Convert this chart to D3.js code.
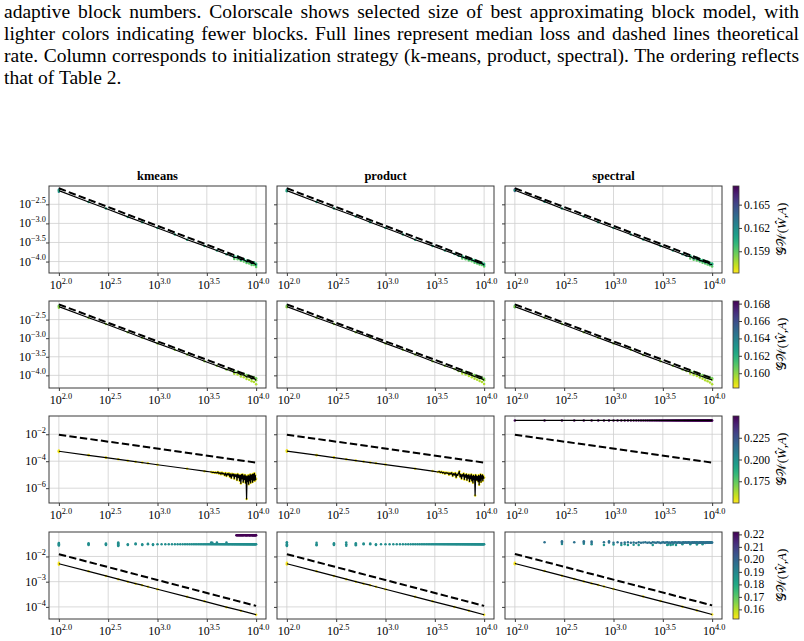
<!DOCTYPE html>
<html><head><meta charset="utf-8">
<script src="https://cdn.jsdelivr.net/npm/d3@7"></script>
<style>body{margin:0;background:#fff}svg{display:block}</style>
</head><body>
<svg id="c" width="804" height="641"></svg>
<script>
// ---------------- DATA ----------------
const captionLines = [
  "adaptive block numbers. Colorscale shows selected size of best approximating block model, with",
  "lighter colors indicating fewer blocks. Full lines represent median loss and dashed lines theoretical",
  "rate. Column corresponds to initialization strategy (k-means, product, spectral). The ordering reflects",
  "that of Table 2."
];
const columns = ["kmeans", "product", "spectral"];
const xTickExps = [2.0, 2.5, 3.0, 3.5, 4.0];
const xLimits = [1.9, 4.1];
const yTickExpsByRow = [[-2.5, -3.0, -3.5, -4.0], [-2.5, -3.0, -3.5, -4.0], [-2, -4, -6], [-2, -3, -4]];
const yTickDigitsByRow = [1, 1, 0, 0];
const yLimitsByRow = [[-4.30, -2.02], [-4.34, -2.00], [-7.1, -0.645], [-4.48, -1.03]];
const colorLimitsByRow = [[0.1562, 0.1674], [0.1583, 0.1683], [0.150, 0.250], [0.1523, 0.2219]];
const colorTicksByRow = [[0.159, 0.162, 0.165], [0.160, 0.162, 0.164, 0.166, 0.168], [0.175, 0.200, 0.225], [0.16, 0.17, 0.18, 0.19, 0.20, 0.21, 0.22]];
const colorTickDigitsByRow = [3, 3, 3, 2];

const sampleSizes = [100,200,300,400,500,600,700,800,900,1000,1100,1200,1300,1400,1500,1600,1700,1800,1900,2000,2100,2200,2300,2400,2500,2600,2700,2800,2900,3000,3100,3200,3300,3400,3500,3600,3700,3800,3900,4000,4100,4200,4300,4400,4500,4600,4700,4800,4900,5000,5100,5200,5300,5400,5500,5600,5700,5800,5900,6000,6100,6200,6300,6400,6500,6600,6700,6800,6900,7000,7100,7200,7300,7400,7500,7600,7700,7800,7900,8000,8100,8200,8300,8400,8500,8600,8700,8800,8900,9000,9100,9200,9300,9400,9500,9600,9700,9800,9900,10000];

// values are log10(loss); points are [n, log10(loss), GW]
// ---- row 1
const kmeansRow1Median = [[100,-2.14],[200,-2.44],[300,-2.61],[500,-2.83],[700,-2.97],[1000,-3.12],[1500,-3.29],[2000,-3.43],[3000,-3.59],[4000,-3.71],[5000,-3.81],[5500,-3.84],[6000,-3.89],[6500,-3.90],[7000,-3.95],[7500,-3.95],[8000,-4.00],[8500,-4.00],[9000,-4.05],[9500,-4.04],[10000,-4.09]];
const kmeansRow1Theory = [[100,-2.08],[10000,-4.05]];
const kmeansRow1Extra = [[100,-2.12,0.163],[100,-2.17,0.162],[6000,-3.86,0.160],[6000,-3.93,0.159],[6500,-3.87,0.160],[6500,-3.94,0.159],[7000,-3.92,0.160],[7000,-3.98,0.159],[7500,-3.93,0.160],[7500,-4.00,0.159],[8000,-3.97,0.160],[8000,-4.04,0.159],[8500,-3.98,0.160],[8500,-4.05,0.159],[9000,-4.02,0.160],[9000,-4.09,0.159],[9500,-4.02,0.160],[9500,-4.09,0.159],[10000,-4.06,0.160],[10000,-4.14,0.159]];
const productRow1Median = [[100,-2.14],[200,-2.44],[300,-2.61],[500,-2.82],[700,-2.97],[1000,-3.12],[1500,-3.29],[2000,-3.43],[3000,-3.59],[4000,-3.71],[5000,-3.80],[5500,-3.85],[6000,-3.88],[6500,-3.91],[7000,-3.94],[7500,-3.96],[8000,-3.99],[8500,-4.02],[9000,-4.04],[9500,-4.05],[10000,-4.09]];
const productRow1Theory = [[100,-2.08],[10000,-4.05]];
const productRow1Extra = [[100,-2.12,0.162],[100,-2.16,0.161],[6000,-3.86,0.160],[6000,-3.92,0.159],[6500,-3.88,0.160],[6500,-3.94,0.159],[7000,-3.91,0.160],[7000,-3.97,0.159],[7500,-3.94,0.160],[7500,-3.99,0.159],[8000,-3.96,0.160],[8000,-4.03,0.159],[8500,-3.99,0.160],[8500,-4.05,0.159],[9000,-4.01,0.160],[9000,-4.08,0.159],[9500,-4.03,0.160],[9500,-4.09,0.159],[10000,-4.06,0.160],[10000,-4.13,0.159]];
const spectralRow1Median = [[100,-2.13],[200,-2.43],[300,-2.61],[500,-2.82],[700,-2.97],[1000,-3.12],[1500,-3.29],[2000,-3.42],[3000,-3.59],[4000,-3.71],[5000,-3.81],[5500,-3.85],[6000,-3.87],[6500,-3.92],[7000,-3.93],[7500,-3.97],[8000,-3.99],[8500,-4.02],[9000,-4.03],[9500,-4.07],[10000,-4.08]];
const spectralRow1Theory = [[100,-2.08],[10000,-4.05]];
const spectralRow1Extra = [[100,-2.11,0.166],[100,-2.15,0.165],[200,-2.42,0.164],[6000,-3.85,0.160],[6000,-3.92,0.159],[6500,-3.88,0.160],[6500,-3.95,0.159],[7000,-3.90,0.160],[7000,-3.97,0.159],[7500,-3.94,0.160],[7500,-4.00,0.159],[8000,-3.96,0.160],[8000,-4.03,0.159],[8500,-3.99,0.160],[8500,-4.05,0.159],[9000,-4.00,0.160],[9000,-4.08,0.159],[9500,-4.04,0.160],[9500,-4.10,0.159],[10000,-4.05,0.160],[10000,-4.13,0.159]];
// ---- row 2
const kmeansRow2Median = [[100,-2.15],[200,-2.45],[300,-2.62],[500,-2.84],[700,-2.99],[1000,-3.14],[1500,-3.31],[2000,-3.44],[3000,-3.62],[4000,-3.74],[5000,-3.84],[5500,-3.87],[6000,-3.92],[6500,-3.93],[7000,-3.98],[7500,-3.99],[8000,-4.04],[8500,-4.04],[9000,-4.09],[9500,-4.08],[10000,-4.13]];
const kmeansRow2Theory = [[100,-2.09],[10000,-4.08]];
const kmeansRow2Extra = [[100,-2.13,0.161],[100,-2.18,0.160],[6000,-3.88,0.1605],[6000,-3.96,0.1595],[6500,-3.90,0.1605],[6500,-3.98,0.1595],[7000,-3.94,0.1605],[7000,-4.03,0.1595],[7500,-3.96,0.1605],[7500,-4.05,0.1595],[8000,-3.99,0.1605],[8000,-4.10,0.1595],[8500,-4.01,0.1605],[8500,-4.12,0.1595],[9000,-4.04,0.1605],[9000,-4.16,0.1595],[9500,-4.05,0.1605],[9500,-4.18,0.1595],[10000,-4.08,0.1605],[10000,-4.24,0.1595]];
const productRow2Median = [[100,-2.15],[200,-2.45],[300,-2.62],[500,-2.84],[700,-2.98],[1000,-3.14],[1500,-3.31],[2000,-3.44],[3000,-3.62],[4000,-3.74],[5000,-3.83],[5500,-3.88],[6000,-3.91],[6500,-3.94],[7000,-3.97],[7500,-4.00],[8000,-4.03],[8500,-4.05],[9000,-4.08],[9500,-4.09],[10000,-4.13]];
const productRow2Theory = [[100,-2.09],[10000,-4.08]];
const productRow2Extra = [[100,-2.13,0.161],[100,-2.17,0.160],[6000,-3.88,0.1605],[6000,-3.95,0.1595],[6500,-3.91,0.1605],[6500,-3.98,0.1595],[7000,-3.93,0.1605],[7000,-4.02,0.1595],[7500,-3.97,0.1605],[7500,-4.05,0.1595],[8000,-3.99,0.1605],[8000,-4.09,0.1595],[8500,-4.02,0.1605],[8500,-4.12,0.1595],[9000,-4.04,0.1605],[9000,-4.15,0.1595],[9500,-4.06,0.1605],[9500,-4.18,0.1595],[10000,-4.09,0.1605],[10000,-4.23,0.1595]];
const spectralRow2Median = [[100,-2.15],[200,-2.45],[300,-2.62],[500,-2.84],[700,-2.99],[1000,-3.14],[1500,-3.31],[2000,-3.45],[3000,-3.62],[4000,-3.74],[5000,-3.84],[5500,-3.88],[6000,-3.91],[6500,-3.95],[7000,-3.97],[7500,-4.01],[8000,-4.03],[8500,-4.06],[9000,-4.08],[9500,-4.10],[10000,-4.12]];
const spectralRow2Theory = [[100,-2.09],[10000,-4.08]];
const spectralRow2Extra = [[100,-2.13,0.162],[100,-2.17,0.161],[6000,-3.88,0.1605],[6000,-3.95,0.1595],[6500,-3.91,0.1605],[6500,-3.99,0.1595],[7000,-3.93,0.1605],[7000,-4.02,0.1595],[7500,-3.97,0.1605],[7500,-4.06,0.1595],[8000,-3.99,0.1605],[8000,-4.09,0.1595],[8500,-4.02,0.1605],[8500,-4.13,0.1595],[9000,-4.04,0.1605],[9000,-4.16,0.1595],[9500,-4.06,0.1605],[9500,-4.19,0.1595],[10000,-4.08,0.1605],[10000,-4.24,0.1595]];
// ---- row 3
const kmeansRow3Median = [[100,-3.26],[200,-3.56],[300,-3.74],[500,-3.96],[1000,-4.26],[2000,-4.56],[3000,-4.74],[3500,-4.80],[3600,-4.83],[3700,-4.82],[3800,-4.86],[3900,-4.83],[4000,-4.88],[4100,-4.80],[4200,-4.92],[4300,-4.85],[4400,-4.97],[4500,-4.84],[4600,-4.95],[4700,-4.90],[4800,-5.05],[4900,-4.88],[5000,-5.10],[5100,-4.92],[5200,-5.02],[5300,-4.90],[5400,-5.15],[5500,-4.95],[5600,-5.25],[5700,-4.93],[5800,-5.08],[5900,-4.96],[6000,-5.30],[6100,-4.98],[6200,-5.12],[6300,-5.00],[6400,-5.40],[6500,-4.95],[6600,-5.20],[6700,-5.02],[6800,-5.45],[6900,-5.05],[7000,-5.65],[7100,-5.00],[7200,-5.30],[7300,-4.98],[7400,-5.55],[7500,-5.08],[7600,-5.35],[7700,-5.02],[7800,-5.60],[7900,-5.10],[8000,-6.80],[8100,-5.15],[8200,-5.50],[8300,-5.05],[8400,-5.70],[8500,-5.10],[8600,-5.45],[8700,-4.98],[8800,-5.60],[8900,-5.05],[9000,-5.35],[9100,-5.00],[9200,-5.55],[9300,-4.95],[9400,-5.40],[9500,-5.10],[9600,-4.90],[9700,-5.45],[9800,-5.05],[9900,-5.35],[10000,-5.30]];
const kmeansRow3Theory = [[100,-2.03],[10000,-4.10]];
const kmeansRow3Extra = [[100,-3.20,0.152],[100,-3.31,0.152],[200,-3.54,0.152],[300,-3.72,0.152],[400,-3.86,0.152],[600,-4.04,0.152],[700,-4.10,0.152],[800,-4.16,0.152]];
const productRow3Median = [[100,-3.25],[200,-3.55],[300,-3.73],[500,-3.95],[1000,-4.25],[2000,-4.55],[3000,-4.73],[3400,-4.80],[3500,-4.76],[3600,-4.84],[3700,-4.79],[3800,-4.88],[3900,-4.82],[4000,-4.93],[4100,-4.84],[4200,-4.90],[4300,-4.86],[4400,-5.00],[4500,-4.87],[4600,-4.95],[4700,-4.85],[4800,-5.10],[4900,-4.92],[5000,-5.02],[5100,-4.88],[5200,-5.20],[5300,-4.95],[5400,-5.05],[5500,-4.90],[5600,-4.75],[5700,-5.15],[5800,-4.98],[5900,-5.30],[6000,-5.00],[6100,-5.10],[6200,-4.92],[6300,-5.35],[6400,-5.02],[6500,-5.18],[6600,-4.96],[6700,-5.40],[6800,-5.05],[6900,-5.25],[7000,-5.00],[7100,-5.50],[7200,-5.08],[7300,-5.30],[7400,-4.98],[7500,-5.45],[7600,-5.10],[7700,-5.60],[7800,-5.05],[7900,-5.35],[8000,-5.12],[8100,-6.55],[8200,-5.02],[8300,-5.40],[8400,-5.10],[8500,-5.40],[8600,-5.15],[8700,-5.50],[8800,-5.05],[8900,-5.75],[9000,-5.10],[9100,-5.40],[9200,-4.98],[9300,-5.55],[9400,-5.08],[9500,-5.30],[9600,-5.02],[9700,-5.45],[9800,-5.10],[9900,-5.25],[10000,-5.20]];
const productRow3Theory = [[100,-2.03],[10000,-4.10]];
const productRow3Extra = [[100,-3.19,0.152],[100,-3.30,0.152],[200,-3.53,0.152],[300,-3.71,0.152],[400,-3.85,0.152],[600,-4.03,0.152],[700,-4.09,0.152],[800,-4.15,0.152]];
const spectralRow3Loss = [-0.97,-0.97,-0.97,-0.97,-0.97,-0.97,-0.97,-0.97,-0.97,-0.97,-0.97,-0.97,-0.97,-0.97,-0.97,-0.97,-0.97,-0.97,-0.97,-0.97,-0.97,-0.97,-0.97,-0.97,-0.97,-0.97,-0.97,-0.97,-0.97,-0.97,-0.97,-0.97,-0.97,-0.97,-0.97,-0.97,-0.97,-0.97,-0.97,-0.97,-0.97,-0.97,-0.97,-0.97,-0.97,-0.97,-0.97,-0.97,-0.97,-0.97,-0.97,-0.97,-0.97,-0.97,-0.97,-0.97,-0.97,-0.97,-0.97,-0.97,-0.97,-0.97,-0.97,-0.97,-0.97,-0.97,-0.97,-0.97,-0.97,-0.97,-0.97,-0.97,-0.97,-0.97,-0.97,-0.97,-0.97,-0.97,-0.97,-0.97,-0.97,-0.97,-0.97,-0.97,-0.97,-0.97,-0.97,-0.97,-0.97,-0.97,-0.97,-0.97,-0.97,-0.97,-0.97,-0.97,-0.97,-0.97,-0.97,-0.97];
const spectralRow3Theory = [[100,-2.03],[10000,-4.10]];
const spectralRow3Extra = [];
// ---- row 4 (lower line = median, upper band = failed replicates)
const kmeansRow4Median = [[100,-2.29],[200,-2.59],[300,-2.77],[400,-2.90],[500,-3.00],[600,-3.08],[700,-3.14],[800,-3.20],[1000,-3.30],[2000,-3.60],[3000,-3.78],[5000,-4.01],[7000,-4.15],[10000,-4.31]];
const kmeansRow4Theory = [[100,-1.91],[10000,-3.96]];
const kmeansRow4Upper = [-1.52,-1.52,-1.52,-1.52,-1.52,-1.52,-1.52,-1.52,-1.52,-1.52,-1.52,-1.52,-1.52,-1.52,-1.52,-1.52,-1.52,-1.52,-1.52,-1.52,-1.52,-1.52,-1.52,-1.52,-1.52,-1.52,-1.52,-1.52,-1.52,-1.52,-1.52,-1.52,-1.52,-1.52,-1.52,-1.52,-1.52,-1.52,-1.52,-1.52,-1.52,-1.52,-1.52,-1.52,-1.52,-1.52,-1.52,-1.52,-1.52,-1.52,-1.52,-1.52,-1.52,-1.52,-1.52,-1.52,-1.52,-1.52,-1.52,-1.52,-1.52,-1.52,-1.52,-1.52,-1.52,-1.52,-1.52,-1.52,-1.52,-1.52,-1.52,-1.52,-1.52,-1.52,-1.52,-1.52,-1.52,-1.52,-1.52,-1.52,-1.52,-1.52,-1.52,-1.52,-1.52,-1.52,-1.52,-1.52,-1.52,-1.52,-1.52,-1.52,-1.52,-1.52,-1.52,-1.52,-1.52,-1.52,-1.52,-1.52];
const kmeansRow4UpperGW = 0.188;
const kmeansRow4PurpleN = [6300,6400,6500,6600,6700,6800,6900,7000,7100,7200,7300,7400,7500,7700,7800,7900,8000,8100,8200,8400,8500,8600,8700,8800,9000,9100,9200,9300,9400,9500,9600,9700,9800,9900,10000];
const kmeansRow4PurpleLoss = -1.16;
const kmeansRow4PurpleGW = 0.222;
const kmeansRow4Extra = [[100,-2.25,0.153],[100,-2.33,0.153],[100,-1.47,0.188],[100,-1.49,0.188],[100,-1.55,0.188],[100,-1.57,0.188],[200,-1.48,0.188],[200,-1.55,0.188],[300,-1.49,0.188],[300,-1.55,0.188],[400,-1.45,0.188],[400,-1.48,0.188],[400,-1.56,0.188],[400,-1.59,0.188],[500,-1.55,0.188],[600,-1.49,0.188],[700,-1.55,0.188],[800,-1.50,0.188],[900,-1.55,0.188],[3500,-1.45,0.190],[3600,-1.46,0.190],[4000,-1.45,0.190],[5000,-1.45,0.190]];
const productRow4Median = [[100,-2.29],[200,-2.59],[300,-2.77],[400,-2.90],[500,-3.00],[600,-3.08],[700,-3.14],[800,-3.20],[1000,-3.30],[2000,-3.60],[3000,-3.78],[5000,-4.00],[7000,-4.15],[10000,-4.31]];
const productRow4Theory = [[100,-1.91],[10000,-3.96]];
const productRow4Upper = [-1.52,-1.52,-1.52,-1.52,-1.52,-1.52,-1.52,-1.52,-1.52,-1.52,-1.52,-1.52,-1.52,-1.52,-1.52,-1.52,-1.52,-1.52,-1.52,-1.52,-1.52,-1.52,-1.52,-1.52,-1.52,-1.52,-1.52,-1.52,-1.52,-1.52,-1.52,-1.52,-1.52,-1.52,-1.52,-1.52,-1.52,-1.52,-1.52,-1.52,-1.52,-1.52,-1.52,-1.52,-1.52,-1.52,-1.52,-1.52,-1.52,-1.52,-1.52,-1.52,-1.52,-1.52,-1.52,-1.52,-1.52,-1.52,-1.52,-1.52,-1.52,-1.52,-1.52,-1.52,-1.52,-1.52,-1.52,-1.52,-1.52,-1.52,-1.52,-1.52,-1.52,-1.52,-1.52,-1.52,-1.52,-1.52,-1.52,-1.52,-1.52,-1.52,-1.52,-1.52,-1.52,-1.52,-1.52,-1.52,-1.52,-1.52,-1.52,-1.52,-1.52,-1.52,-1.52,-1.52,-1.52,-1.52,-1.52,-1.52];
const productRow4UpperGW = 0.188;
const productRow4Extra = [[100,-2.25,0.153],[100,-2.32,0.153],[100,-1.44,0.188],[100,-1.47,0.188],[100,-1.56,0.188],[100,-1.59,0.188],[200,-1.46,0.188],[200,-1.56,0.188],[300,-1.48,0.188],[300,-1.55,0.188],[400,-1.45,0.188],[400,-1.58,0.188],[500,-1.48,0.188],[500,-1.56,0.188],[600,-1.49,0.188],[700,-1.49,0.188],[800,-1.55,0.188]];
const spectralRow4Median = [[100,-2.28],[200,-2.58],[300,-2.76],[400,-2.89],[500,-2.99],[600,-3.07],[700,-3.13],[800,-3.19],[1000,-3.29],[2000,-3.59],[3000,-3.77],[5000,-3.99],[7000,-4.14],[10000,-4.30]];
const spectralRow4Theory = [[100,-1.90],[10000,-3.94]];
const spectralRow4Upper = [null,-1.44,-1.45,-1.44,-1.45,-1.46,null,-1.44,-1.45,-1.46,-1.44,-1.47,-1.45,-1.44,-1.46,-1.45,-1.47,-1.44,-1.46,-1.45,-1.44,-1.46,-1.45,-1.47,-1.44,-1.45,-1.46,-1.44,-1.45,-1.47,-1.45,-1.44,-1.46,-1.45,-1.44,-1.46,-1.45,-1.47,-1.44,-1.45,-1.46,-1.44,-1.45,-1.46,-1.45,-1.44,-1.46,-1.45,-1.47,-1.45,-1.44,-1.46,-1.45,-1.44,-1.46,-1.45,-1.45,-1.44,-1.46,-1.45,-1.47,-1.45,-1.44,-1.46,-1.45,-1.44,-1.45,-1.46,-1.45,-1.44,-1.46,-1.45,-1.47,-1.45,-1.44,-1.46,-1.45,-1.44,-1.45,-1.46,-1.45,-1.44,-1.46,-1.45,-1.47,-1.45,-1.44,-1.46,-1.45,-1.44,-1.45,-1.46,-1.45,-1.44,-1.46,-1.45,-1.45,-1.44,-1.46,-1.45];
const spectralRow4UpperGW = 0.196;
const spectralRow4Extra = [[100,-2.25,0.153],[100,-2.31,0.153],[300,-1.40,0.196],[300,-1.51,0.188],[500,-1.40,0.196],[500,-1.50,0.188],[600,-1.41,0.196],[600,-1.52,0.188],[800,-1.55,0.186],[900,-1.40,0.196],[1000,-1.53,0.186],[1200,-1.55,0.186],[1300,-1.52,0.186],[1400,-1.55,0.186],[1600,-1.54,0.186],[1800,-1.55,0.186],[2500,-1.55,0.186],[3500,-1.55,0.186],[3600,-1.53,0.186],[3800,-1.55,0.186],[4000,-1.53,0.186],[4300,-1.55,0.186],[5000,-1.52,0.186],[6000,-1.52,0.186],[7000,-1.53,0.186],[8000,-1.52,0.186]];

// GW of replicates lying along the median line, per panel
const medianGWByPanel = [[0.1605, 0.1605, 0.1605], [0.1600, 0.1600, 0.1600], [0.152, 0.152, 0.249], [0.153, 0.153, 0.153]];

// ---------------- BUILD ----------------
const panelData = [
  [ {median: kmeansRow1Median, theory: kmeansRow1Theory, extra: kmeansRow1Extra},
    {median: productRow1Median, theory: productRow1Theory, extra: productRow1Extra},
    {median: spectralRow1Median, theory: spectralRow1Theory, extra: spectralRow1Extra} ],
  [ {median: kmeansRow2Median, theory: kmeansRow2Theory, extra: kmeansRow2Extra},
    {median: productRow2Median, theory: productRow2Theory, extra: productRow2Extra},
    {median: spectralRow2Median, theory: spectralRow2Theory, extra: spectralRow2Extra} ],
  [ {median: kmeansRow3Median, theory: kmeansRow3Theory, extra: kmeansRow3Extra},
    {median: productRow3Median, theory: productRow3Theory, extra: productRow3Extra},
    {median: sampleSizes.map((n, i) => [n, spectralRow3Loss[i]]), theory: spectralRow3Theory, extra: spectralRow3Extra} ],
  [ {median: kmeansRow4Median, theory: kmeansRow4Theory,
     extra: kmeansRow4Extra.concat(sampleSizes.map((n, i) => [n, kmeansRow4Upper[i], kmeansRow4UpperGW]),
                                   kmeansRow4PurpleN.map(n => [n, kmeansRow4PurpleLoss, kmeansRow4PurpleGW]))},
    {median: productRow4Median, theory: productRow4Theory,
     extra: productRow4Extra.concat(sampleSizes.map((n, i) => [n, productRow4Upper[i], productRow4UpperGW]))},
    {median: spectralRow4Median, theory: spectralRow4Theory,
     extra: spectralRow4Extra.concat(sampleSizes.map((n, i) => [n, spectralRow4Upper[i], spectralRow4UpperGW]).filter(d => d[1] !== null))} ]
];

// ---------------- LAYOUT ----------------
const svg = d3.select("#c");
const serif = "'Liberation Serif', 'Times New Roman', serif";
const colX = [49, 277, 505], panelW = 217;
const rowY = [186, 301, 416, 532], panelH = 87;
const cbX = 733, cbW = 6;

// caption (justified lines: stretch word spacing to full width)
const capW = 795;
const capG = svg.append("g");
const capTexts = captionLines.map((line, i) => capG.append("text")
    .attr("font-family", serif).attr("font-size", 19.5).attr("fill", "#000")
    .text(line));
const natural = capTexts.map(t => t.node().getComputedTextLength());
const capSx = Math.min(1, capW / d3.max(natural.slice(0, 3)) * 1.0);
capTexts.forEach((t, i) => {
  t.attr("transform", `translate(4,${17.5 + i * 22.3}) scale(${capSx},1)`);
  if (i < 3) {
    const spaces = captionLines[i].split(" ").length - 1;
    t.attr("word-spacing", (capW / capSx - natural[i]) / spaces);
  }
});

// column titles
svg.append("g").selectAll("text").data(columns).join("text")
  .attr("x", (d, i) => colX[i] + panelW / 2).attr("y", rowY[0] - 6)
  .attr("text-anchor", "middle").attr("font-family", serif).attr("font-weight", "bold")
  .attr("font-size", 12.5).text(d => d);

const x = d3.scaleLog().domain([10 ** xLimits[0], 10 ** xLimits[1]]).range([0, panelW]);
const defs = svg.append("defs");

function supLabel(sel, base, exp) {
  sel.append("tspan").text(base);
  sel.append("tspan").attr("dy", -5.2).attr("font-size", 8.3).text(exp);
}

for (let r = 0; r < 4; r++) {
  const y = d3.scaleLog().domain([10 ** yLimitsByRow[r][0], 10 ** yLimitsByRow[r][1]]).range([panelH, 0]);
  const [cmin, cmax] = colorLimitsByRow[r];
  const color = v => d3.interpolateViridis((cmax - v) / (cmax - cmin));

  for (let c = 0; c < 3; c++) {
    const pd = panelData[r][c];
    const g = svg.append("g").attr("transform", `translate(${colX[c]},${rowY[r]})`);
    const clipId = `clip${r}${c}`;
    defs.append("clipPath").attr("id", clipId).append("rect").attr("width", panelW).attr("height", panelH);

    // grid
    g.append("g").selectAll("line").data(xTickExps).join("line")
      .attr("x1", d => x(10 ** d)).attr("x2", d => x(10 ** d)).attr("y1", 0).attr("y2", panelH)
      .attr("stroke", "#cfcfcf").attr("stroke-width", 0.8);
    g.append("g").selectAll("line").data(yTickExpsByRow[r]).join("line")
      .attr("y1", d => y(10 ** d)).attr("y2", d => y(10 ** d)).attr("x1", 0).attr("x2", panelW)
      .attr("stroke", "#cfcfcf").attr("stroke-width", 0.8);

    const plot = g.append("g").attr("clip-path", `url(#${clipId})`);
    const points = pd.extra.concat(pd.median.map(d => [d[0], d[1], medianGWByPanel[r][c]]));
    plot.append("g").selectAll("circle").data(points).join("circle")
      .attr("cx", d => x(d[0])).attr("cy", d => y(10 ** d[1])).attr("r", 1.25)
      .attr("fill", d => color(d[2]));
    const line = d3.line().x(d => x(d[0])).y(d => y(10 ** d[1]));
    plot.append("path").attr("d", line(pd.median)).attr("fill", "none")
      .attr("stroke", "#000").attr("stroke-width", 1.2).attr("stroke-linejoin", "round");
    plot.append("path").attr("d", line(pd.theory)).attr("fill", "none")
      .attr("stroke", "#000").attr("stroke-width", 2).attr("stroke-dasharray", "7.4,3.2");

    // frame
    g.append("rect").attr("width", panelW).attr("height", panelH).attr("fill", "none")
      .attr("stroke", "#3a3a3a").attr("stroke-width", 1);

    // x axis ticks + labels
    g.append("g").attr("transform", `translate(0,${panelH})`)
      .call(d3.axisBottom(x).tickValues(xTickExps.map(e => 10 ** e)).tickFormat("").tickSize(3).tickSizeOuter(0))
      .call(a => a.select(".domain").remove())
      .call(a => a.selectAll("line").attr("stroke", "#3a3a3a"));
    xTickExps.forEach(e => {
      const t = g.append("text").attr("x", x(10 ** e) + 2).attr("y", panelH + 16)
        .attr("text-anchor", "middle").attr("font-family", serif).attr("font-size", 12);
      supLabel(t, "10", e.toFixed(1));
    });

    // y axis ticks
    g.append("g")
      .call(d3.axisLeft(y).tickValues(yTickExpsByRow[r].map(e => 10 ** e)).tickFormat("").tickSize(3).tickSizeOuter(0))
      .call(a => a.select(".domain").remove())
      .call(a => a.selectAll("line").attr("stroke", "#3a3a3a"));
    if (c === 0) {
      yTickExpsByRow[r].forEach(e => {
        const t = g.append("text").attr("x", -3).attr("y", y(10 ** e) + 4)
          .attr("text-anchor", "end").attr("font-family", serif).attr("font-size", 12);
        supLabel(t, "10", "\u2212" + Math.abs(e).toFixed(yTickDigitsByRow[r]));
      });
    }
  }

  // colorbar
  const gradId = `grad${r}`;
  const grad = defs.append("linearGradient").attr("id", gradId).attr("x1", 0).attr("x2", 0).attr("y1", 0).attr("y2", 1);
  d3.range(0, 1.0001, 0.05).forEach(t => grad.append("stop").attr("offset", t).attr("stop-color", d3.interpolateViridis(t)));
  const cb = svg.append("g").attr("transform", `translate(${cbX},${rowY[r]})`);
  cb.append("rect").attr("width", cbW).attr("height", panelH).attr("fill", `url(#${gradId})`)
    .attr("stroke", "#3a3a3a").attr("stroke-width", 0.8);
  const cy = d3.scaleLinear().domain([cmin, cmax]).range([panelH, 0]);
  cb.append("g").attr("transform", `translate(${cbW},0)`)
    .call(d3.axisRight(cy).tickValues(colorTicksByRow[r]).tickFormat("").tickSize(3).tickSizeOuter(0))
    .call(a => a.select(".domain").remove())
    .call(a => a.selectAll("line").attr("stroke", "#3a3a3a"));
  cb.append("g").selectAll("text").data(colorTicksByRow[r]).join("text")
    .attr("x", cbW + 5).attr("y", d => cy(d) + 4)
    .attr("font-family", serif).attr("font-size", 11.5)
    .text(d => d.toFixed(colorTickDigitsByRow[r]));
  const lab = cb.append("text")
    .attr("transform", `translate(53,${panelH / 2}) rotate(-90)`)
    .attr("text-anchor", "middle").attr("font-family", serif).attr("font-size", 13);
  lab.append("tspan").text("\u{1D4A2}\u{1D4B2}(");
  lab.append("tspan").attr("font-style", "italic").text("\u0174");
  lab.append("tspan").text(",");
  lab.append("tspan").attr("font-style", "italic").text("A");
  lab.append("tspan").text(")");
}
</script>
</body></html>
